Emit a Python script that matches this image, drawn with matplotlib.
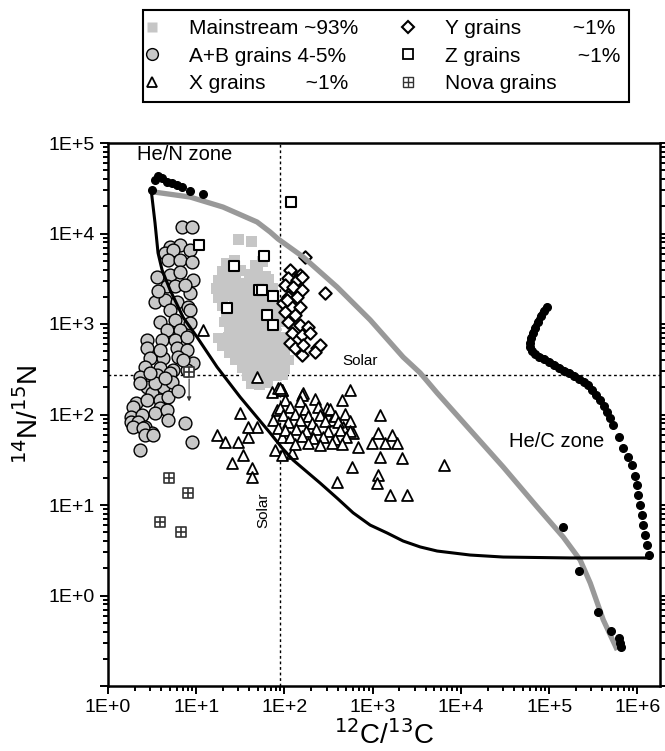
import numpy as np
import matplotlib
matplotlib.use('Agg')
import matplotlib.pyplot as plt
from matplotlib.lines import Line2D
from matplotlib.ticker import LogLocator, FuncFormatter, NullFormatter

plt.rcParams['font.family'] = ['Liberation Sans', 'DejaVu Sans']

# mainstream grains
ms_x = [30, 42,
        22, 27, 47, 56,
        20, 25, 32, 40, 50, 61,
        18, 23, 28, 36, 44, 53, 66,
        17, 21, 26, 33, 41, 50, 60, 73,
        18, 24, 30, 38, 46, 57, 70,
        20, 27, 34, 42, 52, 64, 78,
        22, 29, 37, 45, 56, 68, 85,
        21, 26, 33, 40, 49, 60, 74, 90,
        24, 30, 36, 44, 54, 66, 80,
        18, 23, 28, 35, 43, 52, 63, 78, 95,
        20, 26, 32, 40, 48, 58, 72, 88, 105,
        24, 30, 37, 45, 55, 67, 82, 100,
        28, 35, 42, 51, 62, 76, 93, 110,
        33, 40, 48, 58, 70, 86, 100,
        38, 45, 55, 68, 80, 95,
        42, 52, 64]
ms_y = [8600, 8100,
        4700, 5100, 4500, 4900,
        3800, 3600, 3900, 3500, 3700, 3400,
        3000, 2900, 3100, 2800, 3000, 2900, 3100,
        2450, 2500, 2350, 2550, 2400, 2500, 2300, 2450,
        1950, 2050, 1900, 2000, 1950, 2050, 1900,
        1600, 1650, 1550, 1600, 1650, 1550, 1600,
        1300, 1350, 1250, 1300, 1330, 1270, 1300,
        1050, 1080, 1020, 1060, 1040, 1070, 1030, 1050,
        860, 880, 840, 870, 850, 880, 840,
        700, 720, 690, 710, 700, 720, 690, 700, 710,
        580, 600, 570, 590, 580, 600, 570, 590, 580,
        480, 490, 470, 485, 480, 490, 470, 480,
        400, 410, 390, 405, 400, 410, 395, 400,
        330, 340, 325, 335, 330, 340, 325,
        270, 275, 265, 272, 268, 275,
        220, 215, 225]

# A+B grains
ab_x = [6.9, 9.0, 5.0, 6.5, 4.4, 5.5, 8.5, 4.8, 6.5, 9.0, 3.6, 5.0, 6.5, 9.2,
        4.7, 5.8, 8.5, 3.4, 4.4, 6.1, 8.1, 5.0, 8.5, 3.9, 5.8, 8.5, 4.7, 6.5,
        2.8, 4.1, 5.8, 7.9, 2.8, 6.1, 7.9, 3.0, 4.2, 6.2, 9.2, 2.6, 3.9, 5.5,
        7.9, 2.3, 3.6, 5.0, 2.8, 4.2, 3.15, 2.3, 3.4, 5.3, 2.1, 2.8, 3.9, 4.8,
        1.9, 3.9, 1.8, 2.4, 3.4, 4.7, 1.8, 2.2, 4.8, 1.9, 2.6, 3.15, 7.5, 2.5,
        2.6, 3.2, 2.3, 9.0, 3.7, 7.5, 3.9, 7.1, 3.0, 4.4, 6.2]
ab_y = [11800, 11800, 7100, 7500, 6100, 6600, 6600, 5100, 5100, 4800, 3300,
        3500, 3800, 3100, 2600, 2600, 2200, 1750, 1850, 1750, 1550, 1430, 1430,
        1050, 1100, 1030, 860, 860, 665, 665, 665, 720, 540, 540, 516, 420, 420,
        430, 370, 335, 327, 310, 310, 260, 273, 288, 200, 200, 173, 223, 223,
        228, 134, 145, 145, 156, 121, 118, 94, 99, 104, 112, 83, 83, 87, 73, 73,
        63, 81, 71, 59, 59, 41, 50, 2300, 2700, 516, 400, 290, 250, 180]

# X grains
x_x = [11.9, 49, 72, 84, 94, 163, 554, 450, 158, 94, 31, 17.2, 21.2, 29.8,
       38.7, 49, 38.7, 34, 25.5, 43, 43, 78, 94, 122, 82, 74, 85, 94, 304, 347,
       462, 599, 683, 1210, 1150, 985, 1380, 1660, 1890, 1210, 2150, 584, 395,
       1150, 1120, 1575, 2450, 6450, 89, 304,
       101, 150, 222,
       89, 116, 171, 240, 329,
       96, 132, 185, 253, 375, 486,
       110, 150, 206, 289, 405, 554,
       101, 135, 176, 228, 312, 427, 554,
       116, 158, 211, 274, 375, 500,
       132, 185, 253, 347, 450]
x_y = [860, 260, 177, 196, 187, 173, 187, 145, 164, 187, 104, 59, 50, 50,
       56, 73, 73, 36, 29, 25.6, 20.4, 41, 36, 37.6, 112, 87, 71, 56, 112, 87,
       73, 63, 44, 99, 63, 48, 48, 59, 48, 34, 33, 26.3, 17.9,
       21.5, 17.5, 12.9, 12.9, 27.7, 196, 118,
       145, 140, 150,
       118, 122, 115, 120, 116,
       99, 102, 96, 100, 97, 101,
       83, 86, 81, 84, 82, 85,
       67, 70, 66, 69, 65, 68, 66,
       56, 58, 55, 57, 54, 56,
       47, 48, 46, 48, 47]

# Y grains
y_x = [171, 116, 150, 110, 139, 158, 101, 125, 158, 289, 110, 139, 96, 122,
       150, 101, 132, 110, 150, 185, 122, 158, 195, 116, 132, 234, 253, 158,
       222, 107, 163]
y_y = [5500, 3950, 3480, 3220, 3060, 3300, 2700, 2560, 2380, 2200, 1990,
       1990, 1710, 1540, 1540, 1360, 1260, 1050, 975, 927, 796, 756, 796, 616,
       543, 543, 586, 454, 491, 1840, 586]

# Z grains
z_x = [119, 10.8, 58.7, 26.8, 51.5, 55.7, 74.3, 22.4, 63.5, 74.3]
z_y = [22300, 7460, 5640, 4370, 2380, 2380, 2040, 1500, 1260, 975]

# nova grains
nova_x = [4.9, 8.1, 3.9, 6.7, 8.3]
nova_y = [19.9, 13.6, 6.5, 5.0, 295]

# model curves
gray_x = [3.1, 8.5, 20.1, 48.9, 68.7, 84.6, 163, 395, 935, 2210, 3450, 5370,
          12700, 30100, 73100, 144000, 224000, 292000, 409000, 590000]
gray_y = [2.9e4, 25300, 19600, 13400, 10400, 8700, 5500, 2560, 1110, 431, 288,
          173, 67.5, 26.3, 9.5, 4.43, 2.47, 1.37, 0.54, 0.25]
black_x = [3.1, 3.41, 3.69, 4.10, 5.05, 7.09, 10.2, 17.2, 31.4, 68.7, 94, 125,
           180, 253, 395, 599, 935, 1460, 2210, 3450, 5370, 8170, 12700, 30100,
           173000, 1.29e6, 1.4e6]
black_y = [2.9e4, 13100, 6100, 3950, 2380, 1190, 718, 335, 156, 62.5, 42.7,
           31.4, 23.2, 17.5, 11.9, 8.2, 6.0, 4.9, 4.0, 3.44, 3.10, 2.95, 2.8,
           2.66, 2.6, 2.6, 2.6]

# He/N zone dots
hen_x = [3.15, 3.4, 3.7, 4.1, 4.7, 5.3, 6.1, 6.9, 8.5, 11.9]
hen_y = [3.0e4, 3.9e4, 4.3e4, 4.1e4, 3.7e4, 3.6e4, 3.4e4, 3.3e4, 2.95e4, 2.7e4]

# He/C zone dots (first 22 are the dense upper run)
hec_x = [94900, 87700, 81100, 75000, 69300, 65900, 62500, 60900, 60900, 64100,
         69300, 77100, 87700, 100000, 114000, 130000, 148000, 169000, 192000,
         219000, 249000, 277000, 307000, 341000, 379000, 421000, 455000,
         492000, 532000, 6.1e5, 6.9e5, 7.9e5, 8.7e5, 9.4e5, 1.0e6, 1.02e6,
         1.08e6, 1.13e6, 1.16e6, 1.23e6, 1.29e6, 1.36e6,
         1.44e5, 2.19e5, 3.6e5, 5.0e5, 6.1e5, 6.4e5, 6.5e5]
hec_y = [1540, 1390, 1230, 1050, 903, 796, 700, 616, 557, 503, 467, 432, 411,
         380, 352, 327, 303, 288, 266, 247, 228, 212, 187, 164, 145, 124, 107,
         91, 77, 56, 43, 34, 28, 21, 16.6, 12.9, 10, 7.8, 6.0, 4.7, 3.6, 2.8,
         5.7, 1.87, 0.66, 0.41, 0.34, 0.30, 0.27]

solar_c = 89
solar_n = 272

fig = plt.figure(figsize=(6.65, 7.51), dpi=100)
ax = fig.add_axes([108 / 665, 65 / 751, 552 / 665, 543 / 751])
ax.set_xscale('log')
ax.set_yscale('log')
ax.set_xlim(1, 1.8e6)
ax.set_ylim(0.1, 1e5)

ax.axvline(solar_c, color='black', ls=(0, (2, 2)), lw=1, zorder=1)
ax.axhline(solar_n, color='black', ls=(0, (2, 2)), lw=1, zorder=1)

ax.scatter(ms_x, ms_y, marker='s', s=60, c='#c6c6c6', edgecolors='none', zorder=2)
ax.scatter(ab_x, ab_y, marker='o', s=85, c='#c8c8c8', edgecolors='black',
           linewidths=1, zorder=3)
ax.scatter(x_x, x_y, marker='^', s=62, c='white', edgecolors='black',
           linewidths=1.3, zorder=3)
ax.scatter(y_x, y_y, marker='D', s=40, c='white', edgecolors='black',
           linewidths=1.5, zorder=4)
ax.scatter(z_x, z_y, marker='s', s=55, c='white', edgecolors='black',
           linewidths=1.5, zorder=4)
ax.scatter(nova_x, nova_y, marker='s', s=45, c='white', edgecolors='#333333',
           linewidths=1.2, zorder=4)
ax.scatter(nova_x, nova_y, marker='+', s=45, c='#333333', linewidths=1.2,
           zorder=5)
ax.annotate('', xy=(nova_x[4], 130), xytext=(nova_x[4], nova_y[4] * 0.9),
            arrowprops=dict(arrowstyle='-|>', color='#333333', lw=0.8,
                            mutation_scale=6), zorder=5)

ax.plot(gray_x, gray_y, color='#999999', lw=3.8, solid_capstyle='butt',
        solid_joinstyle='round', zorder=6)
ax.plot(black_x, black_y, color='black', lw=2.2, solid_joinstyle='round', zorder=6)
ax.plot(hen_x, hen_y, ls='none', marker='o', ms=5.5, color='black', zorder=7)
ax.plot(hec_x[:22], hec_y[:22], color='black', lw=5, solid_capstyle='round',
        zorder=7)
ax.plot(hec_x, hec_y, ls='none', marker='o', ms=5.5, color='black', zorder=7)

ax.text(2.13, 7.4e4, 'He/N zone', fontsize=14.5, ha='left', va='center')
ax.text(1.2e5, 50, 'He/C zone', fontsize=14.5, ha='center', va='center')
ax.text(720, 390, 'Solar', fontsize=11, ha='center', va='center')
ax.text(58, 8.8, 'Solar', fontsize=11, ha='center', va='center', rotation=90)

ax.set_xlabel('$^{12}$C/$^{13}$C', fontsize=20, labelpad=3)
ax.set_ylabel('$^{14}$N/$^{15}$N', fontsize=20, labelpad=3)


def dec_fmt(v, pos):
    e = int(round(np.log10(v)))
    return f'1E+{e}' if e >= 0 else ''


for axis in (ax.xaxis, ax.yaxis):
    axis.set_major_locator(LogLocator(base=10, numticks=20))
    axis.set_minor_locator(LogLocator(base=10, subs=np.arange(2, 10), numticks=20))
    axis.set_major_formatter(FuncFormatter(dec_fmt))
    axis.set_minor_formatter(NullFormatter())
ax.tick_params(which='both', direction='out', width=1.4, right=True,
               labelsize=14)
ax.tick_params(which='major', length=6)
ax.tick_params(which='minor', length=3.5)
for sp in ax.spines.values():
    sp.set_linewidth(1.8)

handles = [
    Line2D([], [], ls='none', marker='s', ms=7, mfc='#c6c6c6', mec='none'),
    Line2D([], [], ls='none', marker='o', ms=8.5, mfc='#c8c8c8', mec='black'),
    Line2D([], [], ls='none', marker='^', ms=7, mfc='white', mec='black', mew=1.3),
    Line2D([], [], ls='none', marker='D', ms=6, mfc='white', mec='black', mew=1.5),
    Line2D([], [], ls='none', marker='s', ms=6.5, mfc='white', mec='black', mew=1.3),
    (Line2D([], [], ls='none', marker='s', ms=6.5, mfc='white', mec='#333333'),
     Line2D([], [], ls='none', marker='+', ms=6.5, mec='#333333')),
]
labels = ['Mainstream ~93%', 'A+B grains 4-5%', 'X grains       ~1%',
          'Y grains         ~1%', 'Z grains          ~1%', 'Nova grains']
leg = fig.legend(handles, labels, ncol=2, loc='upper left',
                 bbox_to_anchor=(143 / 665, 1 - 10 / 751),
                 fontsize=15, frameon=True, fancybox=False,
                 edgecolor='black', framealpha=1, borderpad=0.45,
                 labelspacing=0.4, handlelength=0.0, handletextpad=1.75,
                 columnspacing=2.4, borderaxespad=0)
leg.get_frame().set_linewidth(1.5)

fig.savefig('out.png', dpi=100)
